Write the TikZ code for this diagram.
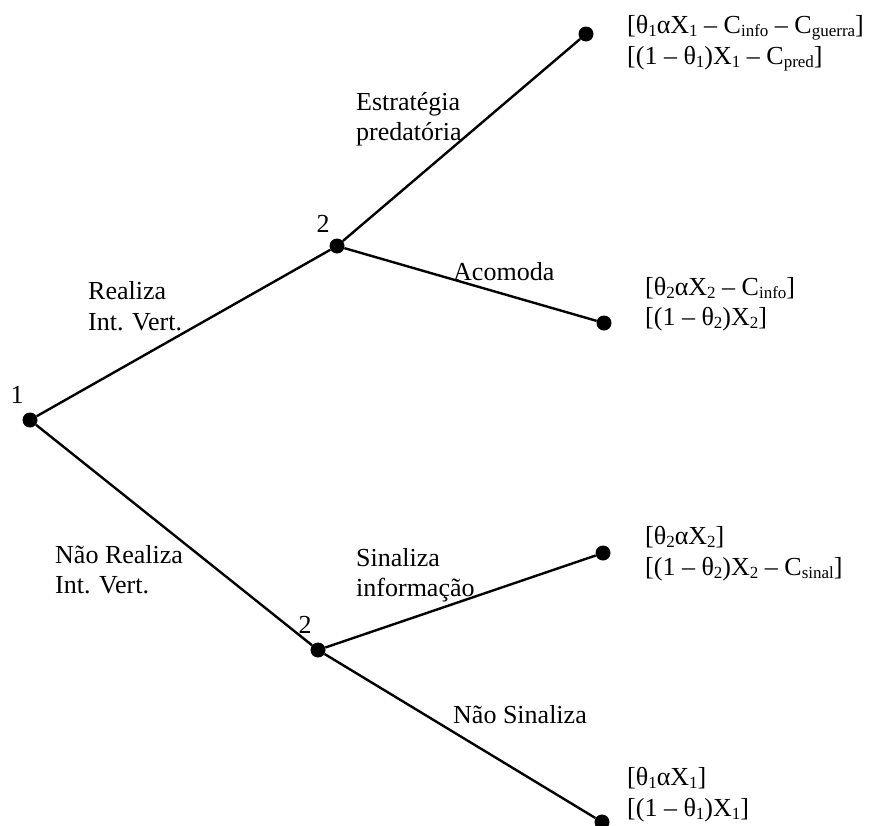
\documentclass[tikz,border=0pt]{standalone}
\usepackage{fontspec}
\setmainfont{Liberation Serif}
\newcommand{\sbx}[1]{\raisebox{-0.14em}{\fontsize{17}{17}\selectfont #1}}
\begin{document}
\begin{tikzpicture}[x=1pt,y=-1pt,
  dot/.style={circle,fill=black,inner sep=0pt,minimum size=15pt},
  lbl/.style={anchor=base west,inner sep=0pt,font=\fontsize{26}{30}\selectfont},
  num/.style={anchor=base,inner sep=0pt,font=\fontsize{26}{30}\selectfont},
  branch/.style={line width=2.4pt}]
\useasboundingbox (0,0) rectangle (874,825);
% decision nodes
\node[dot] (n1) at (30,420) {};
\node[dot] (n2a) at (337,246) {};
\node[dot] (n2b) at (318,650) {};
% leaves
\node[dot] (la) at (586,34) {};
\node[dot] (lb) at (604,323) {};
\node[dot] (lc) at (603,553) {};
\node[dot] (ld) at (602,822) {};
% branches
\draw[branch] (n1) -- (n2a);
\draw[branch] (n1) -- (n2b);
\draw[branch] (n2a) -- (la);
\draw[branch] (n2a) -- (lb);
\draw[branch] (n2b) -- (lc);
\draw[branch] (n2b) -- (ld);
% player labels
\node[num] (p1) at (17,403) {1};
\node[num] (p2a) at (323,232) {2};
\node[num] (p2b) at (305,633) {2};
% action labels
\node[lbl] (e1) at (356,110) {Estratégia};
\node[lbl] (e2) at (356,140) {predatória};
\node[lbl] (ac) at (453,280) {Acomoda};
\node[lbl] (r1) at (88,299) {Realiza};
\node[lbl] (r2) at (88,330) {Int. Vert.};
\node[lbl] (nr1) at (55,563) {Não Realiza};
\node[lbl] (nr2) at (55,593) {Int. Vert.};
\node[lbl] (s1) at (356,566) {Sinaliza};
\node[lbl] (s2) at (356,596) {informação};
\node[lbl] (ns) at (453,723) {Não Sinaliza};
% payoffs
\node[lbl] (pa1) at (627,33) {[θ\sbx{1}αX\sbx{1} – C\sbx{info} – C\sbx{guerra}]};
\node[lbl] (pa2) at (627,64) {[(1 – θ\sbx{1})X\sbx{1} – C\sbx{pred}]};
\node[lbl] (pb1) at (645,295) {[θ\sbx{2}αX\sbx{2} – C\sbx{info}]};
\node[lbl] (pb2) at (645,325) {[(1 – θ\sbx{2})X\sbx{2}]};
\node[lbl] (pc1) at (645,544) {[θ\sbx{2}αX\sbx{2}]};
\node[lbl] (pc2) at (645,575) {[(1 – θ\sbx{2})X\sbx{2} – C\sbx{sinal}]};
\node[lbl] (pd1) at (627,785) {[θ\sbx{1}αX\sbx{1}]};
\node[lbl] (pd2) at (627,816) {[(1 – θ\sbx{1})X\sbx{1}]};
\end{tikzpicture}
\end{document}
